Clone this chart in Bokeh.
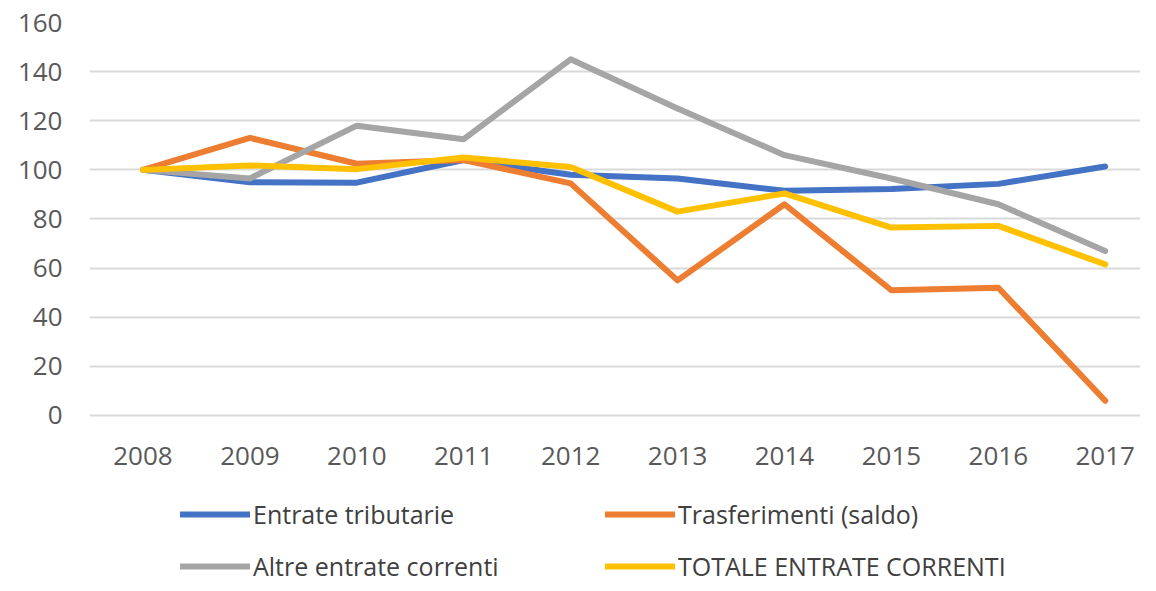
from bokeh.plotting import figure
from bokeh.models import Range1d, FixedTicker, Legend, LegendItem, ColumnDataSource
from bokeh.core.properties import value
from bokeh.embed import file_html
from bokeh.resources import INLINE

years = [2008, 2009, 2010, 2011, 2012, 2013, 2014, 2015, 2016, 2017]
entrate_tributarie = [100, 95, 94.8, 104, 98, 96.5, 91.5, 92.2, 94.3, 101.4]
trasferimenti = [100, 113, 102.5, 104, 94.5, 55, 86, 51, 52, 6]
altre_entrate = [100, 96.5, 118, 112.5, 145, 125, 106, 96.5, 86, 67]
totale_entrate = [100, 101.8, 100.3, 105, 101.2, 83, 90.4, 76.5, 77.2, 61.5]
y_ticks = [0, 20, 40, 60, 80, 100, 120, 140, 160]

series_names = ["Entrate tributarie", "Trasferimenti (saldo)",
                "Altre entrate correnti", "TOTALE ENTRATE CORRENTI"]
series_vals = [entrate_tributarie, trasferimenti, altre_entrate, totale_entrate]
colors = ["#4472C4", "#ED7D31", "#A5A5A5", "#FFC000"]

FONT = "Open Sans"

# frame spans to the bottom of the figure so the legend rows sit inside it
p = figure(width=1140, height=583, output_backend="svg", toolbar_location=None,
           x_range=Range1d(2007.5, 2017.33), y_range=Range1d(-68.4, 160),
           x_axis_location=None,
           min_border_left=89, min_border_right=0, min_border_top=22,
           min_border_bottom=0)
p.outline_line_color = None
p.background_fill_color = "white"
p.border_fill_color = "white"

renderers = []
for name, vals, c in zip(series_names, series_vals, colors):
    r = p.line(years, vals, line_color=c, line_width=6,
               line_cap="round", line_join="round")
    renderers.append(r)

# category (year) labels under the value axis
lab_src = ColumnDataSource(dict(x=years, y=[0] * len(years),
                                t=[str(y) for y in years]))
p.text(x="x", y="y", text="t", source=lab_src, y_offset=41,
       text_align="center", text_baseline="middle",
       text_font=value(FONT), text_font_size="26px", text_color="#595959")

p.yaxis.ticker = FixedTicker(ticks=y_ticks)
ax = p.yaxis[0]
ax.axis_line_color = None
ax.major_tick_line_color = None
ax.minor_tick_line_color = None
ax.major_tick_out = 0
ax.major_tick_in = 0
ax.minor_tick_out = 0
ax.minor_tick_in = 0
ax.major_label_text_font = FONT
ax.major_label_text_font_size = "26px"
ax.major_label_text_color = "#595959"
ax.major_label_standoff = 27

p.xgrid.grid_line_color = None
p.ygrid.grid_line_color = "#D9D9D9"
p.ygrid.grid_line_width = 2

def make_legend(idx, loc):
    items = [LegendItem(label=series_names[i], renderers=[renderers[i]]) for i in idx]
    lg = Legend(items=items, orientation="horizontal", location=loc,
                padding=0, margin=0, spacing=22, glyph_width=70, glyph_height=24,
                label_height=24, label_width=330, label_standoff=3,
                label_text_font=FONT, label_text_font_size="25px",
                label_text_color="#404040", background_fill_alpha=0,
                border_line_color=None)
    return lg

p.add_layout(make_legend([0, 1], (91, 52)), "center")
p.add_layout(make_legend([2, 3], (91, 0)), "center")

open("out.html", "w").write(file_html(p, INLINE))
